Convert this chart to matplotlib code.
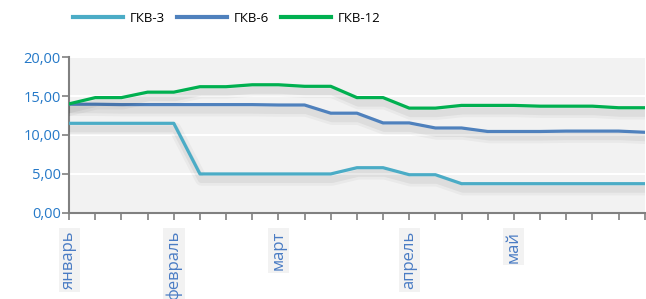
import numpy as np
import matplotlib.pyplot as plt
import matplotlib.patheffects as pe

plt.rcParams['font.family'] = ['Open Sans', 'DejaVu Sans']

# 23 points on the category axis
months = ['январь', '', '', '', 'февраль', '', '', '', 'март', '', '', '', '', 'апрель',
          '', '', '', 'май', '', '', '', '', '']
gkv3 = [11.5, 11.5, 11.5, 11.5, 11.5, 5.0, 5.0, 5.0, 5.0, 5.0, 5.0, 5.8, 5.8, 4.9, 4.9,
        3.75, 3.75, 3.75, 3.75, 3.75, 3.75, 3.75, 3.75]
gkv6 = [13.95, 13.95, 13.9, 13.9, 13.9, 13.9, 13.9, 13.9, 13.85, 13.85, 12.8, 12.8, 11.55,
        11.55, 10.9, 10.9, 10.45, 10.45, 10.45, 10.5, 10.5, 10.5, 10.35]
gkv12 = [14.0, 14.8, 14.8, 15.5, 15.5, 16.2, 16.2, 16.45, 16.45, 16.25, 16.25, 14.8, 14.8,
         13.45, 13.45, 13.8, 13.8, 13.8, 13.7, 13.7, 13.7, 13.5, 13.5]

x = np.arange(len(months))

fig = plt.figure(figsize=(6.46, 2.99), dpi=100)
ax = fig.add_axes([0.107, 0.288, 0.891, 0.521])
ax.set_facecolor('#f2f2f2')

# soft blurred shadow under each line
shadow = [pe.SimpleLineShadow(offset=(1, -4), shadow_color='black', alpha=0.035, linewidth=9),
          pe.SimpleLineShadow(offset=(1, -4), shadow_color='black', alpha=0.05, linewidth=5),
          pe.Normal()]
for y, c, lab in [(gkv3, '#4bacc6', 'ГКВ-3'), (gkv6, '#4f81bd', 'ГКВ-6'), (gkv12, '#00b050', 'ГКВ-12')]:
    ax.plot(x, y, color=c, lw=2.3, label=lab, path_effects=shadow, zorder=3)

ax.set_xlim(0, len(months) - 1)
ax.set_ylim(0, 20)
ax.set_yticks([0, 5, 10, 15, 20])
ax.set_yticklabels(['0,00', '5,00', '10,00', '15,00', '20,00'])
ax.grid(axis='y', color='white', lw=1.5)
ax.set_axisbelow(True)

ax.set_xticks(x)
ax.set_xticklabels(months, rotation=90, va='top', ha='center')
for t in ax.get_xticklabels():
    if t.get_text():
        t.set_bbox(dict(facecolor='#f2f2f2', edgecolor='none', pad=1.5))

ax.tick_params(axis='y', colors='#808080', labelcolor='#2579c8', labelsize=10.5, length=5, width=1.2, pad=1)
ax.tick_params(axis='x', colors='#808080', labelcolor='#4a7cc4', labelsize=12, length=5, width=1.2, pad=8)

for s in ['top', 'right']:
    ax.spines[s].set_visible(False)
for s in ['left', 'bottom']:
    ax.spines[s].set_color('#808080')
    ax.spines[s].set_linewidth(1.5)

leg = fig.legend(loc='upper left', bbox_to_anchor=(0.095, 1.0), ncol=3, frameon=False,
                 fontsize=9.5, handlelength=3.8, handletextpad=0.5, columnspacing=0.9)
for ln in leg.get_lines():
    ln.set_path_effects([])
    ln.set_linewidth(3)

plt.savefig('out.png', dpi=100)
